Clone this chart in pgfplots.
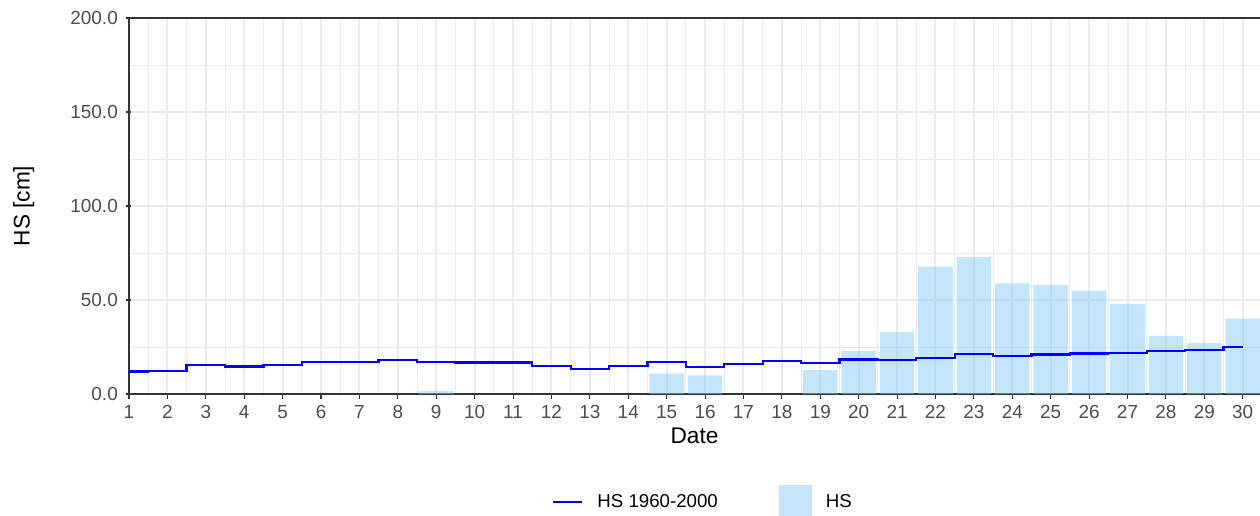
\documentclass[border=0pt]{standalone}
\usepackage{fontspec}
\setmainfont{Liberation Sans}
\usepackage{pgfplots}
\usepackage{pgfplotstable}
\pgfplotsset{compat=1.18}
\definecolor{gridc}{HTML}{EBEBEB}
\definecolor{tickc}{HTML}{4D4D4D}
\definecolor{axc}{HTML}{333333}
\definecolor{skyb}{RGB}{135,206,250}
\pgfplotstableread{
day hs
9 1.5
15 10.8
16 9.9
19 12.8
20 23.0
21 33.0
22 67.7
23 72.9
24 58.9
25 58.0
26 55.0
27 47.9
28 30.9
29 27.0
30 40.1
}\hsdata
\pgfplotstableread{
day ref
1 12.0
2 12.3
3 15.6
4 14.7
5 15.4
6 17.0
7 17.0
8 17.9
9 17.0
10 16.8
11 16.7
12 14.9
13 13.3
14 14.9
15 17.0
16 14.5
17 16.0
18 17.4
19 16.3
20 18.3
21 17.9
22 19.3
23 21.1
24 20.4
25 21.0
26 21.6
27 22.0
28 22.7
29 23.4
30 25.0
}\refdata
\begin{document}
\begin{tikzpicture}
\begin{axis}[
 at={(0pt,0pt)}, anchor=south west,
 scale only axis, width=848.25pt, height=282pt,
 xmin=1, xmax=30.45, ymin=0, ymax=200,
 xtick={1,...,30}, ytick={0,50,100,150,200},
 minor x tick num=1, minor y tick num=1,
 grid=both,
 major grid style={gridc, line width=1.5pt},
 minor grid style={gridc, line width=0.75pt},
 minor tick length=0pt,
 tick align=outside, major tick length=3.75pt,
 tick style={axc, line width=0.8pt},
 axis x line=box, axis y line=left,
 axis line style={-, axc, line width=0.8pt},
 xtick pos=bottom, ytick pos=left,
 ticklabel style={font=\fontsize{14.2}{15}\selectfont, text=tickc},
 x tick label style={yshift=-1.5pt},
 y tick label style={xshift=-3pt},
 /pgf/number format/assume math mode=true,
 y tick label style={/pgf/number format/.cd, fixed, fixed zerofill, precision=1, /tikz/.cd},
 xlabel={Date}, ylabel={HS [cm]},
 label style={font=\fontsize{17}{18}\selectfont},
 xlabel style={at={(axis description cs:0.5,-0.1117)}, anchor=center},
 ylabel style={at={(axis description cs:-0.093,0.5)}, anchor=center},
 legend columns=2,
 legend style={at={(axis description cs:0.5128,-0.287)}, anchor=center, draw=none, fill=none,
   font=\fontsize{14}{15}\selectfont,
   /tikz/every even column/.append style={column sep=35.25pt},
   nodes={inner xsep=10.5pt}},
]
\addlegendimage{blue, line width=1.7pt, legend image code/.code={\draw[blue, line width=1.7pt] (0pt,0pt) -- (21.75pt,0pt);}}
\addlegendentry{HS 1960-2000}
\addplot[ybar, bar width=0.9, bar shift=0pt, fill=skyb, fill opacity=0.5, draw=none,
  legend image code/.code={\fill[skyb, fill opacity=0.5] (0pt,-12.75pt) rectangle (24.75pt,12.75pt);}]
  table[x=day, y=hs] {\hsdata};
\addlegendentry{HS}
\addplot[const plot mark mid, blue, line width=1.7pt, forget plot] table[x=day, y=ref] {\refdata};
\end{axis}
\pgfresetboundingbox
\path[use as bounding box] (-96.75pt,-90.75pt) rectangle (848.25pt,295.5pt);
\end{tikzpicture}
\end{document}
